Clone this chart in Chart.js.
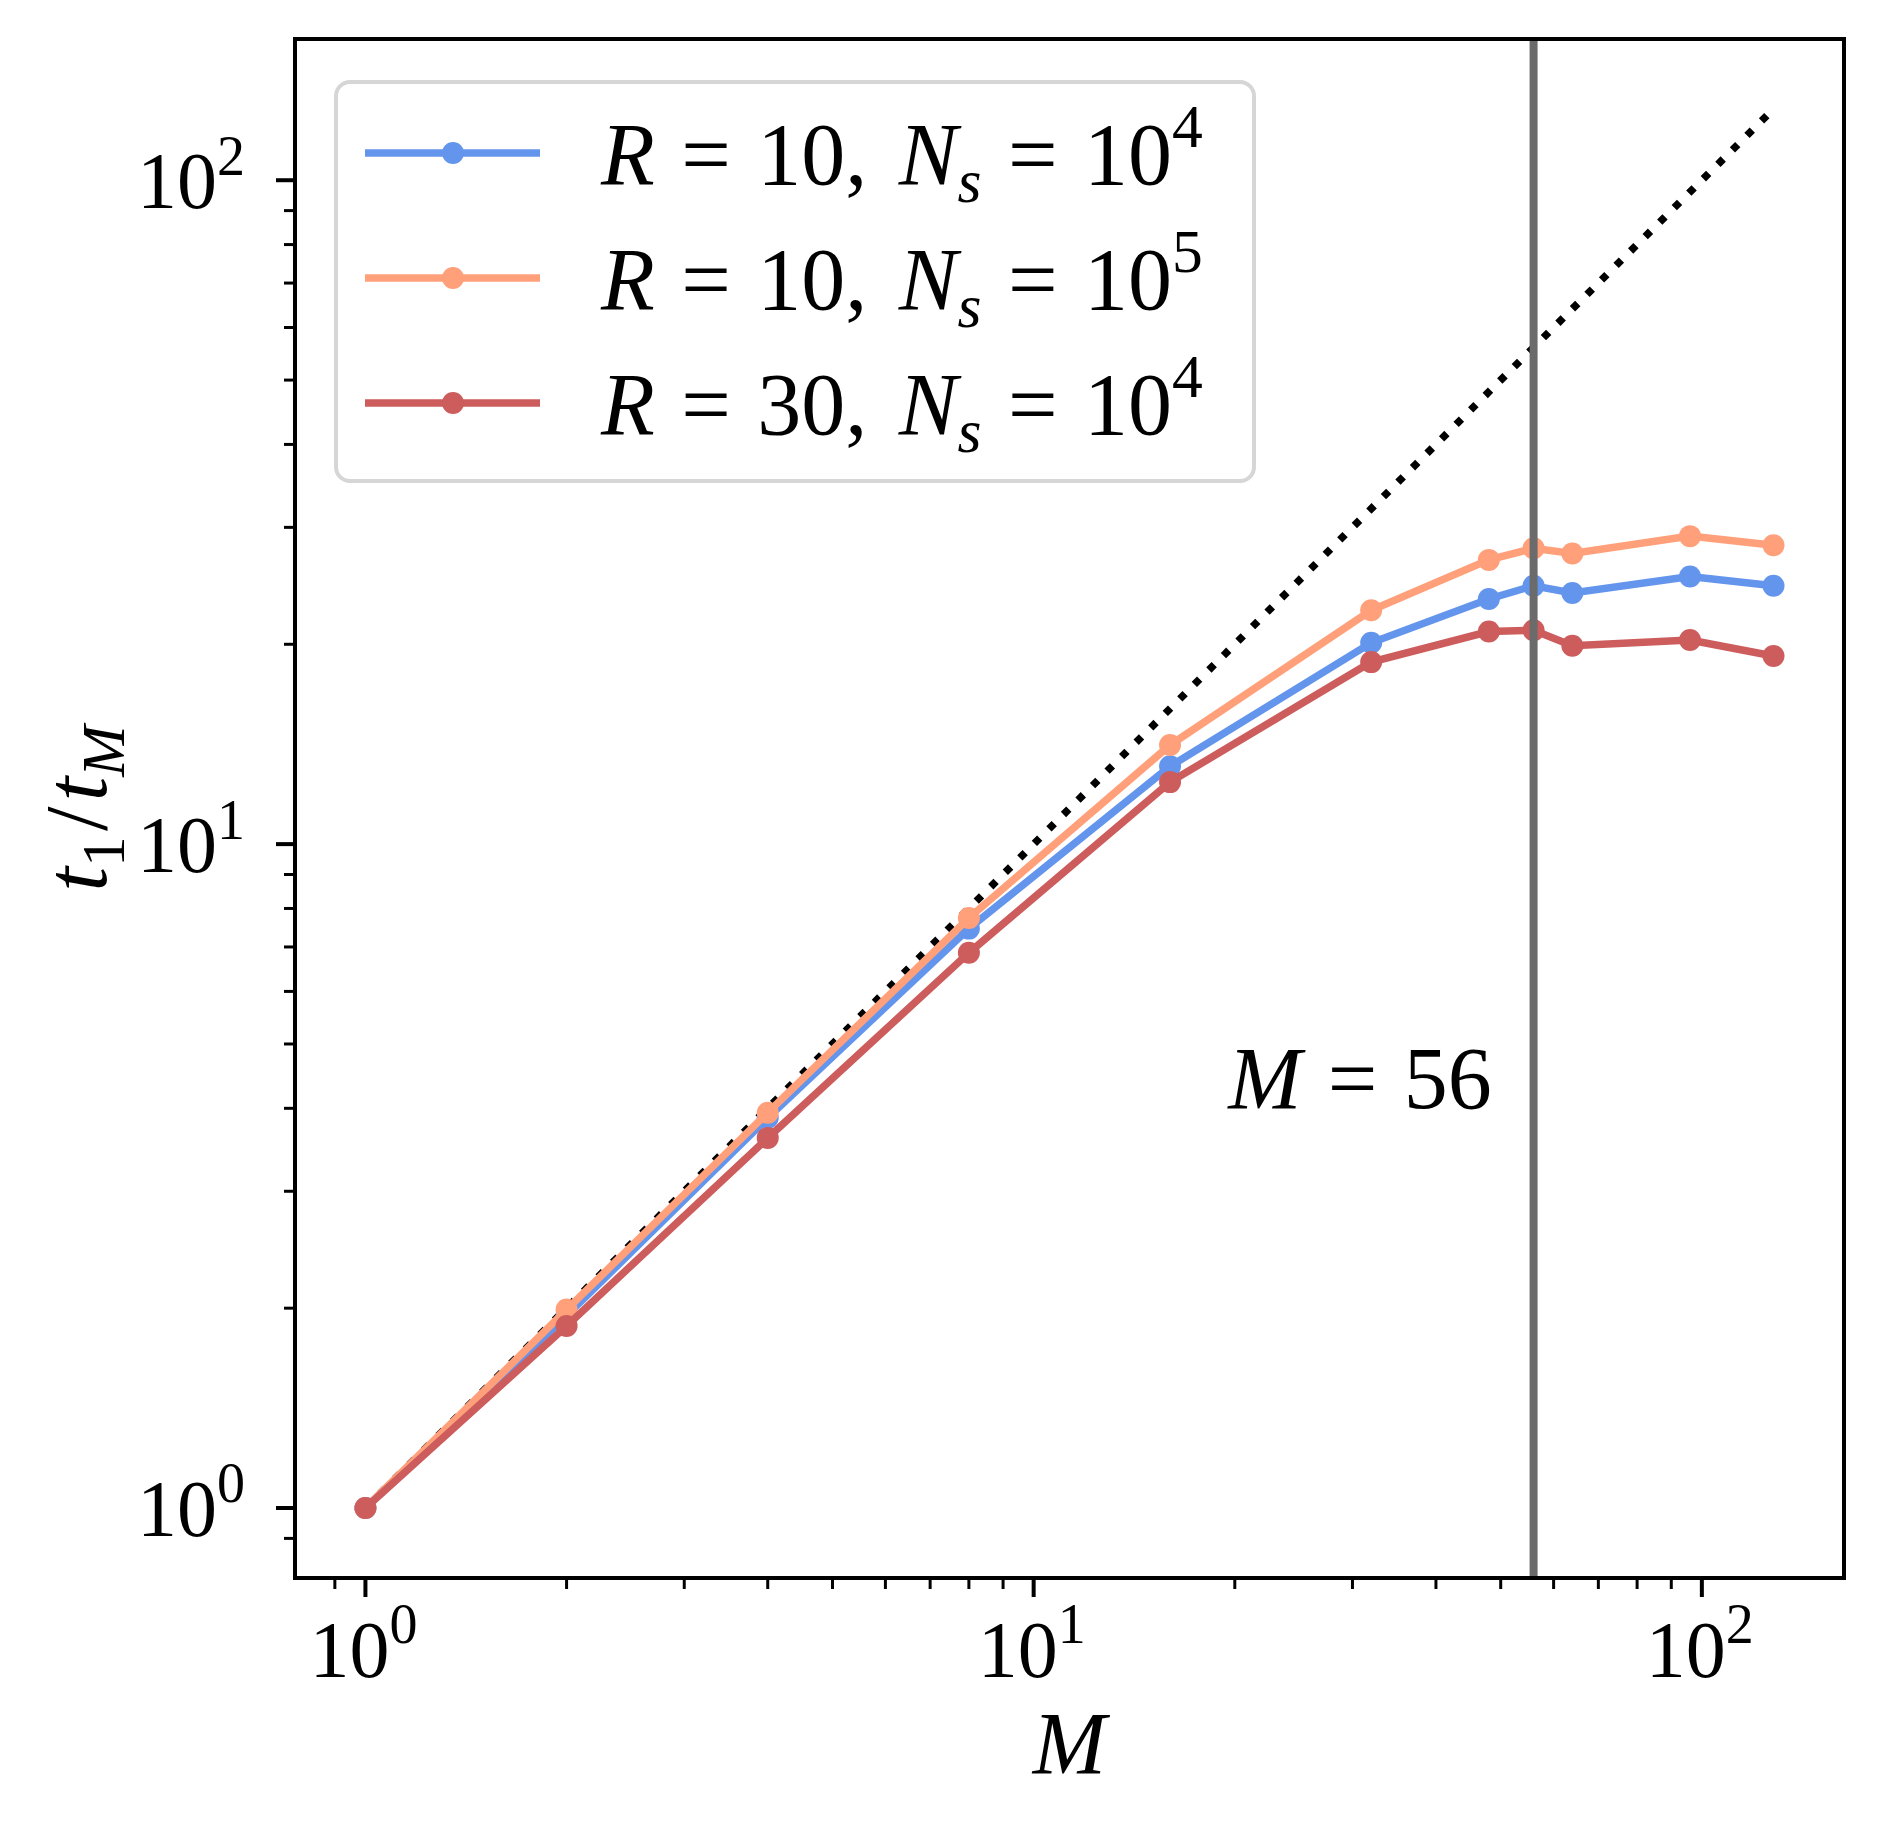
<!DOCTYPE html>
<html>
<head>
<meta charset="utf-8">
<script src="https://cdn.jsdelivr.net/npm/chart.js@4.4.1/dist/chart.umd.min.js"></script>
<style>
  html, body { margin: 0; padding: 0; background: #fff; }
  canvas { display: block; }
</style>
</head>
<body>
<canvas id="speedup" width="1884" height="1828"></canvas>
<script>
// number of workers M and measured speedup t_1 / t_M
const mValues = [1, 2, 4, 8, 16, 32, 48, 56, 64, 96, 128];
const r10n4 = [1.0, 1.95, 3.87, 7.46, 13.1, 20.1, 23.4, 24.5, 23.9, 25.3, 24.5];
const r10n5 = [1.0, 1.99, 3.94, 7.74, 14.1, 22.5, 26.8, 27.9, 27.4, 29.1, 28.2];
const r30n4 = [1.0, 1.88, 3.61, 6.86, 12.4, 18.8, 20.9, 21.0, 19.9, 20.3, 19.2];
// ideal linear speedup (dotted)
const idealM = [1, 128];
const idealSpeedup = [1, 128];
// vertical marker and its note
const markerM = 56;
const noteAt = [48.5, 4.0];
const axisMin = 0.7845;
const axisMax = 163.2;

const SERIF = '"Liberation Serif", "DejaVu Serif", serif';
const TICK_SIZE = 80;
const TEXT_SIZE = 88;

function pts(xs, ys) {
  return xs.map((x, i) => ({ x: x, y: ys[i] }));
}

function setFont(ctx, size, italic) {
  ctx.font = (italic ? 'italic ' : '') + size + 'px ' + SERIF;
}

// parts: {t, it, sub, sup} or {g: em} for a gap
function drawMath(ctx, parts, x, y, size, align) {
  const pieces = parts.map(p => {
    if (p.g) return { p: p, s: size, w: p.g * size };
    const s = (p.sub || p.sup) ? size * 0.7 : size;
    setFont(ctx, s, p.it);
    return { p: p, s: s, w: ctx.measureText(p.t).width };
  });
  const total = pieces.reduce((a, b) => a + b.w, 0);
  let cx = align === 'right' ? x - total : align === 'center' ? x - total / 2 : x;
  ctx.textAlign = 'left';
  ctx.textBaseline = 'alphabetic';
  pieces.forEach(q => {
    if (!q.p.g) {
      setFont(ctx, q.s, q.p.it);
      let dy = 0;
      if (q.p.sub) dy = size * 0.2;
      if (q.p.sup) dy = -size * 0.42;
      ctx.fillText(q.p.t, cx, y + dy);
    }
    cx += q.w;
  });
}

function niceTicks(scale) {
  return scale.ticks.map(t => t.value).filter(v => {
    if (v < scale.min || v > scale.max) return false;
    const e = Math.floor(Math.log10(v) + 1e-9);
    const m = v / Math.pow(10, e);
    return Math.abs(m - Math.round(m)) < 1e-6;
  });
}

function isMajor(v) {
  const e = Math.round(Math.log10(v));
  return Math.abs(v - Math.pow(10, e)) < 1e-9 * Math.pow(10, e);
}

const EQ = [{ g: 0.3 }, { t: '=' }, { g: 0.3 }];
function legendLabel(r, exp) {
  return [{ t: 'R', it: 1 }].concat(EQ, [{ t: r + ',' }, { g: 0.36 }, { t: 'N', it: 1 }, { t: 's', it: 1, sub: 1 }],
    EQ, [{ t: '10' }, { t: exp, sup: 1 }]);
}
const legendLabels = [legendLabel('10', '4'), legendLabel('10', '5'), legendLabel('30', '4')];

const decorations = {
  id: 'decorations',
  afterDatasetsDraw(chart) {
    const ctx = chart.ctx;
    const area = chart.chartArea;
    const xs = chart.scales.x;
    const ys = chart.scales.y;
    ctx.save();

    // vertical line at M = 56
    const vx = xs.getPixelForValue(markerM);
    ctx.strokeStyle = '#6b6b6b';
    ctx.lineWidth = 8;
    ctx.beginPath();
    ctx.moveTo(vx, area.top);
    ctx.lineTo(vx, area.bottom);
    ctx.stroke();

    // note
    ctx.fillStyle = '#000';
    drawMath(ctx, [{ t: 'M', it: 1 }].concat(EQ, [{ t: '56' }]),
      xs.getPixelForValue(noteAt[0]), ys.getPixelForValue(noteAt[1]), TEXT_SIZE, 'right');

    // frame
    ctx.strokeStyle = '#000';
    ctx.lineWidth = 4;
    ctx.strokeRect(area.left, area.top, area.right - area.left, area.bottom - area.top);

    // ticks
    ctx.lineCap = 'butt';
    niceTicks(xs).forEach(v => {
      const px = xs.getPixelForValue(v);
      const major = isMajor(v);
      ctx.lineWidth = major ? 4 : 3;
      ctx.beginPath();
      ctx.moveTo(px, area.bottom);
      ctx.lineTo(px, area.bottom + (major ? 19 : 11));
      ctx.stroke();
      if (major) {
        const e = Math.round(Math.log10(v));
        drawMath(ctx, [{ t: '10' }, { t: String(e), sup: 1 }], px - 2, area.bottom + 99, TICK_SIZE, 'center');
      }
    });
    niceTicks(ys).forEach(v => {
      const py = ys.getPixelForValue(v);
      const major = isMajor(v);
      ctx.lineWidth = major ? 4 : 3;
      ctx.beginPath();
      ctx.moveTo(area.left, py);
      ctx.lineTo(area.left - (major ? 19 : 11), py);
      ctx.stroke();
      if (major) {
        const e = Math.round(Math.log10(v));
        drawMath(ctx, [{ t: '10' }, { t: String(e), sup: 1 }], area.left - 50, py + 28, TICK_SIZE, 'right');
      }
    });

    // axis titles
    drawMath(ctx, [{ t: 'M', it: 1 }], (area.left + area.right) / 2, 1773, TEXT_SIZE, 'center');
    ctx.save();
    ctx.translate(106, (area.top + area.bottom) / 2);
    ctx.rotate(-Math.PI / 2);
    drawMath(ctx, [{ t: 't', it: 1 }, { t: '1', sub: 1 }, { g: 0.06 }, { t: '/' }, { g: 0.06 }, { t: 't', it: 1 }, { t: 'M', it: 1, sub: 1 }],
      0, 0, TEXT_SIZE, 'center');
    ctx.restore();

    // legend
    const lx = 336, ly = 82, lw = 918, lh = 399;
    ctx.beginPath();
    ctx.roundRect(lx, ly, lw, lh, 14);
    ctx.fillStyle = 'rgba(255,255,255,0.8)';
    ctx.fill();
    ctx.strokeStyle = '#d6d6d6';
    ctx.lineWidth = 4;
    ctx.stroke();
    const rows = [153, 278, 403];
    chart.data.datasets.slice(0, 3).forEach((ds, i) => {
      const ry = rows[i];
      ctx.strokeStyle = ds.borderColor;
      ctx.lineWidth = 7.5;
      ctx.beginPath();
      ctx.moveTo(365, ry);
      ctx.lineTo(540, ry);
      ctx.stroke();
      ctx.fillStyle = ds.borderColor;
      ctx.beginPath();
      ctx.arc(453, ry, 11, 0, Math.PI * 2);
      ctx.fill();
      ctx.fillStyle = '#000';
      drawMath(ctx, legendLabels[i], 601, ry + 31, TEXT_SIZE, 'left');
    });

    ctx.restore();
  }
};

function series(data, color, order) {
  return {
    data: data,
    borderColor: color,
    backgroundColor: color,
    borderWidth: 7.5,
    pointRadius: 11,
    pointBorderWidth: 0,
    pointBackgroundColor: color,
    pointHoverRadius: 11,
    tension: 0,
    order: order
  };
}

new Chart(document.getElementById('speedup'), {
  type: 'line',
  data: {
    datasets: [
      series(pts(mValues, r10n4), '#6495ED', 3),
      series(pts(mValues, r10n5), '#FFA07A', 2),
      series(pts(mValues, r30n4), '#CD5C5C', 1),
      {
        data: pts(idealM, idealSpeedup),
        borderColor: '#000',
        borderWidth: 7.5,
        borderDash: [7.5, 13],
        borderCapStyle: 'butt',
        pointRadius: 0,
        order: 4
      }
    ]
  },
  options: {
    responsive: false,
    devicePixelRatio: 1,
    animation: false,
    layout: { padding: { top: 39, right: 40, left: 0, bottom: 0 } },
    plugins: { legend: { display: false }, tooltip: { enabled: false } },
    scales: {
      x: {
        type: 'logarithmic',
        min: axisMin,
        max: axisMax,
        grid: { display: false },
        border: { display: false },
        ticks: { display: false, autoSkip: false },
        afterFit: s => { s.height = 250; }
      },
      y: {
        type: 'logarithmic',
        min: axisMin,
        max: axisMax,
        grid: { display: false },
        border: { display: false },
        ticks: { display: false, autoSkip: false },
        afterFit: s => { s.width = 295; }
      }
    }
  },
  plugins: [decorations]
});
</script>
</body>
</html>
